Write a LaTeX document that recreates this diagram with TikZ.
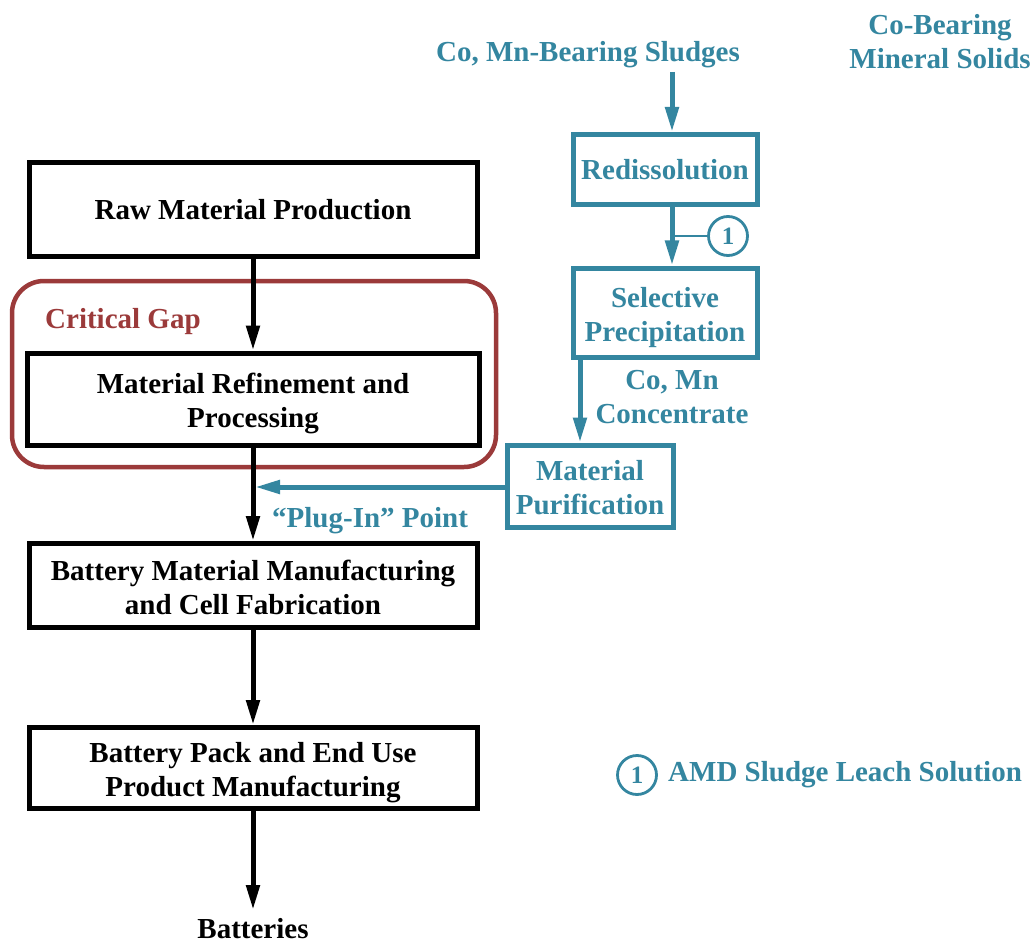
\documentclass[tikz,border=0pt]{standalone}
\usepackage{fontspec}
\setmainfont{Liberation Serif}[BoldFont={Liberation Serif Bold}]
\usetikzlibrary{arrows.meta}
\definecolor{teal1}{RGB}{52,134,160}
\definecolor{gapred}{RGB}{155,58,58}
\begin{document}
\begin{tikzpicture}[x=1pt,y=-1pt,
  every node/.style={font=\fontsize{29}{34}\selectfont\bfseries, align=center, inner sep=0pt},
  mainbox/.style={draw=black, line width=5pt, fill=white, minimum width=448pt, align=center},
  tealbox/.style={draw=teal1, line width=5pt, fill=white, text=teal1, align=center},
  twolines/.style={text height=57pt, text depth=0pt},
  tealtext/.style={text=teal1},
  blackflow/.style={draw=black, line width=5pt, -{Triangle[length=25pt,width=13pt]}},
  tealflow/.style={draw=teal1, line width=5pt, -{Triangle[length=25pt,width=13pt]}},
  numcirc/.style={draw=teal1, line width=2.8pt, circle, minimum size=39pt, text=teal1, font=\fontsize{25}{28}\selectfont\bfseries}
]
\useasboundingbox (0,0) rectangle (1036,944);

% critical gap outline
\draw[gapred, line width=4.5pt, rounded corners=32pt] (12,281) rectangle (496,467);
\node[text=gapred, anchor=west] (gaplabel) at (45,322) {Critical Gap};

% main supply chain
\node[mainbox, minimum height=94pt] (raw) at (253,209.5) {Raw Material Production};
\node[mainbox, twolines, minimum width=452pt, minimum height=92pt] (refine) at (253,399) {Material Refinement and\\Processing};
\node[mainbox, twolines, minimum height=84pt] (bmm) at (253,585.5) {Battery Material Manufacturing\\and Cell Fabrication};
\node[mainbox, twolines, minimum height=81pt] (pack) at (253,768) {Battery Pack and End Use\\Product Manufacturing};
\node (batt) at (253,929) {Batteries};
\coordinate (battin) at (253,910);

\draw[blackflow] (raw.south) -- (refine.north);
\draw[blackflow] (refine.south) -- (bmm.north);
\draw[blackflow] (bmm.south) -- (pack.north);
\draw[blackflow] (pack.south) -- (battin);

% recovery route
\node[tealtext] (sludge) at (588,55) {Co, Mn-Bearing Sludges};
\node[tealtext] (mineral) at (940,42) {Co-Bearing\\Mineral Solids};
\node[tealbox, minimum width=184pt, minimum height=70pt] (redis) at (665,169.5) {Redissolution};
\node[tealbox, twolines, minimum width=184pt, minimum height=89pt] (selprec) at (665,312.5) {Selective\\Precipitation};
\node[tealtext] (conc) at (672,397) {Co, Mn\\Concentrate};
\node[tealbox, twolines, minimum width=166pt, minimum height=82pt] (purif) at (590,486) {Material\\Purification};
\node[tealtext, anchor=west] (plugin) at (272,521) {``Plug-In'' Point};

\coordinate (sludgeout) at (672,72);
\draw[tealflow] (sludgeout) -- (sludgeout |- redis.north);
\draw[tealflow] (redis.south -| sludgeout) -- (sludgeout |- selprec.north);
\node[numcirc] (leach) at (728,236) {1};
\draw[teal1, line width=2.8pt] (672,236) -- (leach.west);
\coordinate (precout) at (580,357);
\draw[tealflow] (precout |- selprec.south) -- (precout |- purif.north);
\coordinate (plugpt) at (255,487);
\draw[tealflow] (purif.west |- plugpt) -- (plugpt);

% legend
\node[numcirc] (legcirc) at (637,775) {1};
\node[tealtext, anchor=west] (legtext) at (668,775) {AMD Sludge Leach Solution};
\end{tikzpicture}
\end{document}
